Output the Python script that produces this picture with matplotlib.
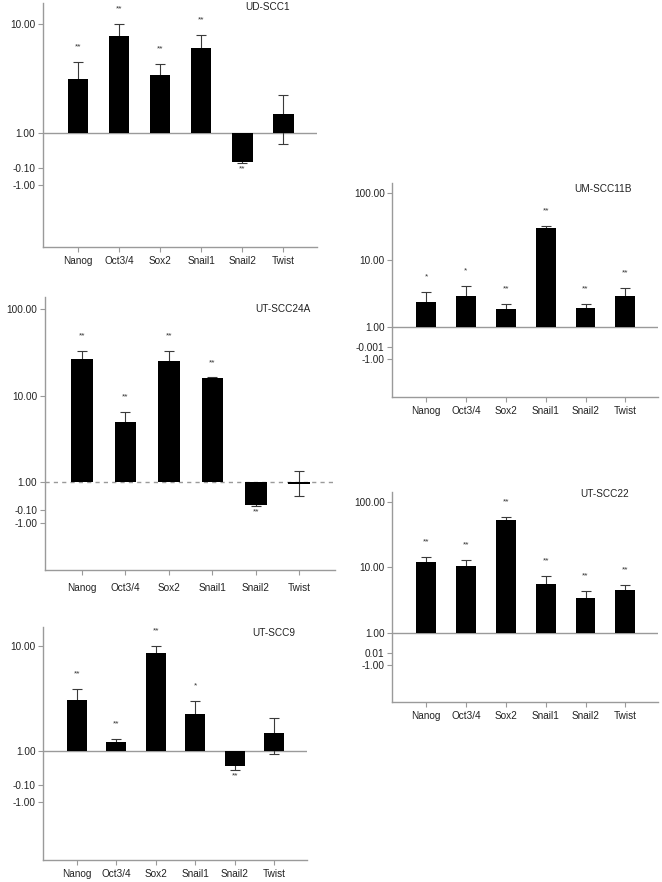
import numpy as np
import matplotlib
matplotlib.use("Agg")
import matplotlib.pyplot as plt

plt.rcParams['font.family'] = ['Liberation Sans', 'DejaVu Sans']

W, H = 662, 882

genes = ['Nanog', 'Oct3/4', 'Sox2', 'Snail1', 'Snail2', 'Twist']

# fold change (bar value), error bar upper / lower ends, significance
ud_scc1 = [3.15, 7.7, 3.4, 6.06, 0.546, 1.48]
ud_scc1_hi = [4.45, 10.1, 4.27, 7.87, 0.56, 2.23]
ud_scc1_lo = [2.2, 5.8, 2.9, 4.6, 0.53, 0.79]
ud_scc1_sig = ['**', '**', '**', '**', '**', '']

ut_scc24a = [26.4, 4.92, 25.2, 15.9, 0.541, 0.95]
ut_scc24a_hi = [32.7, 6.47, 32.7, 16.3, 0.55, 1.34]
ut_scc24a_lo = [20.0, 3.5, 18.0, 15.5, 0.527, 0.69]
ut_scc24a_sig = ['**', '**', '**', '**', '**', '']

ut_scc9 = [3.05, 1.22, 8.53, 2.26, 0.725, 1.48]
ut_scc9_hi = [3.9, 1.32, 10.07, 3.02, 0.79, 2.06]
ut_scc9_lo = [2.2, 1.12, 7.0, 1.5, 0.66, 0.94]
ut_scc9_sig = ['**', '**', '**', '*', '**', '']

um_scc11b = [2.35, 2.92, 1.84, 29.9, 1.93, 2.92]
um_scc11b_hi = [3.35, 4.03, 2.17, 32.0, 2.17, 3.8]
um_scc11b_lo = [1.35, 1.8, 1.5, 27.8, 1.7, 2.05]
um_scc11b_sig = ['*', '*', '**', '**', '**', '**']

ut_scc22 = [12.2, 10.4, 52.0, 5.56, 3.44, 4.6]
ut_scc22_hi = [14.6, 13.0, 58.5, 7.5, 4.4, 5.4]
ut_scc22_lo = [9.8, 7.8, 45.5, 3.6, 2.5, 3.8]
ut_scc22_sig = ['**'] * 6

# y tick labels as printed on the original
labels_a = ['10.00', '1.00', '-0.10', '-1.00']
labels_b = ['100.00', '10.00', '1.00', '-0.10', '-1.00']
labels_c = ['100.00', '10.00', '1.00', '-0.001', '-1.00']
labels_d = ['100.00', '10.00', '1.00', '0.01', '-1.00']

GRAY = '#9a9a9a'
FS = 7.2

fig = plt.figure(figsize=(W / 100, H / 100), dpi=100)


def panel(rect, ylog, name, vals, hi, lo, sig, ylabels, ypos, title_off,
          dashed=False, label_pad=3):
    l, t, r, b = rect
    ax = fig.add_axes([l / W, 1 - b / H, (r - l) / W, (b - t) / H])
    x = np.arange(len(genes))
    ax.set_yscale('log')
    ax.set_ylim(10 ** ylog[0], 10 ** ylog[1])
    ax.set_xlim(-0.85, 5.82)

    ax.axhline(1, color=GRAY, lw=1, ls=(0, (3, 3)) if dashed else '-', zorder=1)
    v = np.array(vals)
    ax.bar(x, v - 1, bottom=1, width=0.5, color='black', zorder=3)
    ax.errorbar(x, v, yerr=[v - np.array(lo), np.array(hi) - v], fmt='none',
                ecolor='#3a3a3a', elinewidth=0.8, capsize=3.5, capthick=0.8,
                zorder=2)
    for i, s in enumerate(sig):
        if not s:
            continue
        if v[i] >= 1:
            ax.annotate(s, (x[i], hi[i]), xytext=(0, 15), textcoords='offset pixels',
                        ha='center', va='center', fontsize=6, color='#333333')
        else:
            ax.annotate(s, (x[i], lo[i]), xytext=(0, -6), textcoords='offset pixels',
                        ha='center', va='center', fontsize=6, color='#333333')

    ax.set_yticks(ypos)
    ax.set_yticklabels(ylabels)
    ax.yaxis.set_minor_locator(matplotlib.ticker.NullLocator())
    ax.set_xticks(x)
    ax.set_xticklabels(genes)
    ax.tick_params(axis='both', labelsize=FS, colors=GRAY, labelcolor='#222222',
                   length=3.5, width=0.8)
    ax.tick_params(axis='x', pad=label_pad)
    ax.tick_params(axis='y', pad=2)
    for side in ['top', 'right']:
        ax.spines[side].set_visible(False)
    for side in ['left', 'bottom']:
        ax.spines[side].set_color(GRAY)
        ax.spines[side].set_linewidth(1)
    ax.annotate(name, (1, 1), xycoords='axes fraction', xytext=title_off,
                textcoords='offset pixels', ha='right', va='center', fontsize=FS,
                color='#222222')
    return ax


neg = [10 ** -0.32, 10 ** -0.477]

panel((43, 3, 317, 247), (-1.046, 1.193), 'UD-SCC1',
      ud_scc1, ud_scc1_hi, ud_scc1_lo, ud_scc1_sig,
      labels_a, [10, 1] + neg, (-27, -4))

panel((45, 297, 335, 570), (-1.02, 2.144), 'UT-SCC24A',
      ut_scc24a, ut_scc24a_hi, ut_scc24a_lo, ut_scc24a_sig,
      labels_b, [100, 10, 1] + neg, (-25, -12), dashed=True, label_pad=6)

panel((43.3, 626.7, 306.7, 860), (-1.032, 1.183), 'UT-SCC9',
      ut_scc9, ut_scc9_hi, ut_scc9_lo, ut_scc9_sig,
      labels_a, [10, 1] + neg, (-11, -6))

panel((392.3, 182.7, 658, 396.7), (-1.05, 2.159), 'UM-SCC11B',
      um_scc11b, um_scc11b_hi, um_scc11b_lo, um_scc11b_sig,
      labels_c, [100, 10, 1, 10 ** -0.31, 10 ** -0.485], (-26, -6))

panel((392.3, 491.7, 658, 702.3), (-1.049, 2.152), 'UT-SCC22',
      ut_scc22, ut_scc22_hi, ut_scc22_lo, ut_scc22_sig,
      labels_d, [100, 10, 1, 10 ** -0.295, 10 ** -0.48], (-29, -2))

fig.savefig('out.png', dpi=100)
